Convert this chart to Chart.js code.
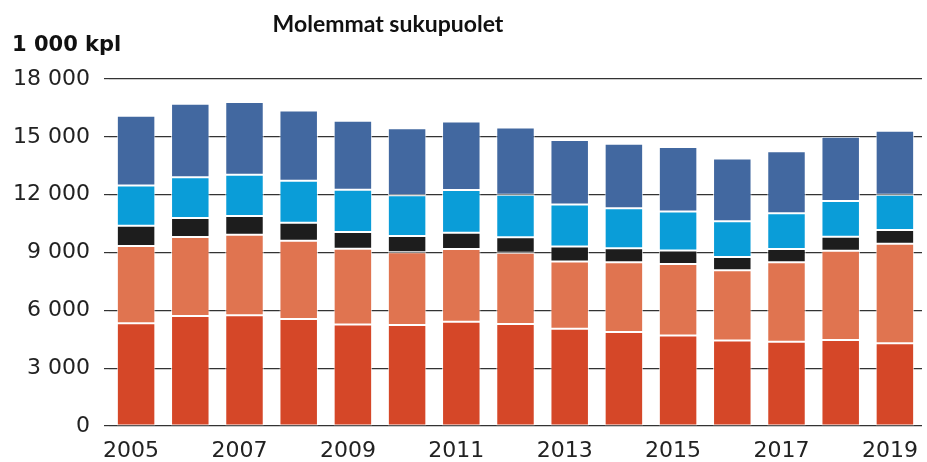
<!DOCTYPE html>
<html>
<head>
<meta charset="utf-8">
<script src="https://cdn.jsdelivr.net/npm/chart.js@4/dist/chart.umd.min.js"></script>
<style>
  html, body { margin: 0; padding: 0; background: #fff; }
  #wrap { width: 927px; height: 462px; position: relative; }
</style>
</head>
<body>
<div id="wrap"><canvas id="c" width="927" height="462"></canvas></div>
<script>
const years = ['2005','2006','2007','2008','2009','2010','2011','2012','2013','2014','2015','2016','2017','2018','2019'];
const series1 = [5330, 5700, 5740, 5550, 5260, 5240, 5410, 5290, 5050, 4880, 4700, 4430, 4370, 4460, 4290];
const series2 = [4010, 4100, 4180, 4060, 3940, 3770, 3770, 3700, 3480, 3610, 3700, 3650, 4120, 4630, 5170];
const series3 = [1050, 990, 970, 930, 860, 850, 850, 800, 780, 730, 710, 690, 690, 730, 710];
const series4 = [2080, 2110, 2140, 2180, 2200, 2110, 2210, 2210, 2180, 2080, 2020, 1850, 1850, 1850, 1830];
const series5 = [3630, 3820, 3780, 3650, 3580, 3480, 3560, 3490, 3340, 3340, 3340, 3250, 3220, 3340, 3320];
const yTicks = [0, 3000, 6000, 9000, 12000, 15000, 18000];
const titleText = 'Molemmat sukupuolet';
const unitText = '1 000 kpl';

const colors = ['#D54728', '#E07450', '#1D1D1D', '#0A9DD8', '#4268A0'];
const allSeries = [series1, series2, series3, series4, series5];

const textPlugin = {
  id: 'texts',
  afterDraw(chart) {
    const ctx = chart.ctx;
    ctx.save();
    ctx.fillStyle = '#111';
    ctx.textBaseline = 'middle';
    ctx.font = 'bold 23px Lato';
    ctx.textAlign = 'center';
    ctx.fillText(titleText, 388, 25);
    ctx.font = 'bold 21px "DejaVu Sans"';
    ctx.textAlign = 'left';
    ctx.fillText(unitText, 12, 46);
    ctx.restore();
  }
};

function fmt(v) {
  return String(v).replace(/\B(?=(\d{3})+(?!\d))/g, ' ');
}

new Chart(document.getElementById('c'), {
  type: 'bar',
  data: {
    labels: years,
    datasets: allSeries.map((d, i) => ({
      label: 'Sarja ' + (i + 1),
      data: d,
      backgroundColor: colors[i],
      borderColor: 'rgba(255,255,255,0.75)',
      borderWidth: 1,
      borderSkipped: false,
      barPercentage: 0.71,
      categoryPercentage: 1.0
    }))
  },
  options: {
    responsive: false,
    animation: false,
    devicePixelRatio: 1,
    layout: { padding: { top: 79, right: 5, bottom: 0, left: 0 } },
    plugins: { legend: { display: false }, tooltip: { enabled: false }, title: { display: false } },
    scales: {
      x: {
        stacked: true,
        afterFit: function(s) { s.height = 36; s.paddingLeft = 0; s.paddingRight = 0; },
        grid: { display: false, drawTicks: false },
        border: { display: false },
        ticks: {
          autoSkip: false,
          maxRotation: 0,
          padding: 12,
          labelOffset: -5,
          color: '#222',
          font: { family: 'DejaVu Sans', size: 22, lineHeight: 1.2 },
          callback: function(v, i) { return i % 2 === 0 ? years[i] : ''; }
        }
      },
      y: {
        stacked: true,
        min: 0,
        max: 18000,
        afterFit: function(s) { s.width = 109; },
        afterBuildTicks: function(s) { s.ticks = yTicks.map(v => ({ value: v })); },
        grid: { color: '#333', lineWidth: 1.2, tickLength: 5, drawTicks: true, tickColor: '#333' },
        border: { display: false },
        ticks: {
          padding: 14,
          color: '#222',
          font: { family: 'DejaVu Sans', size: 22, lineHeight: 1.2 },
          callback: function(v) { return fmt(v); }
        }
      }
    }
  },
  plugins: [textPlugin]
});
</script>
</body>
</html>
